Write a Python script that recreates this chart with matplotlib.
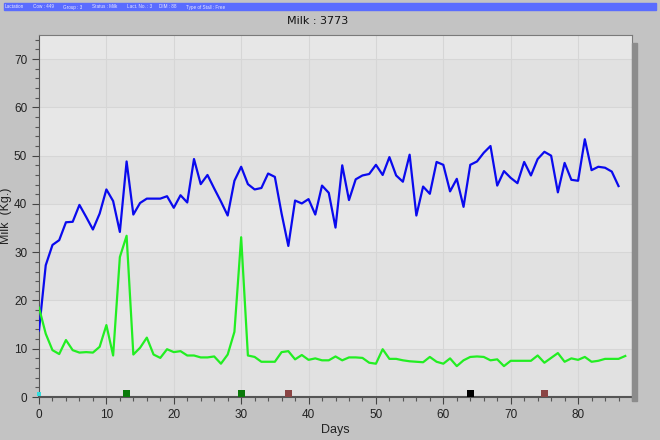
import matplotlib
matplotlib.use("Agg")
import matplotlib.pyplot as plt
from matplotlib.patches import Rectangle
from matplotlib.ticker import MultipleLocator

# daily milk yield (kg), days 0..86
milk = [13.8, 27.3, 31.5, 32.5, 36.2, 36.3, 39.8, 37.3, 34.7, 38.0,
        43.0, 40.6, 34.2, 48.8, 37.8, 40.2, 41.1, 41.1, 41.1, 41.6,
        39.2, 41.8, 40.3, 49.3, 44.1, 46.0, 43.2, 40.5, 37.6, 44.8,
        47.7, 44.1, 43.0, 43.3, 46.3, 45.6, 38.0, 31.3, 40.7, 40.1,
        41.0, 37.8, 43.8, 42.3, 35.1, 48.0, 40.8, 45.1, 45.9, 46.2,
        48.1, 46.0, 49.7, 45.9, 44.6, 50.2, 37.6, 43.6, 42.1, 48.7,
        48.1, 42.6, 45.2, 39.4, 48.1, 48.8, 50.6, 52.0, 43.8, 46.8,
        45.4, 44.3, 48.7, 45.9, 49.3, 50.8, 50.0, 42.4, 48.5, 45.0,
        44.8, 53.4, 47.0, 47.7, 47.5, 46.7, 43.7]

# second series (green), days 0..87
second = [18.5, 13.1, 9.7, 8.9, 11.8, 9.7, 9.2, 9.3, 9.2, 10.4,
          14.9, 8.6, 29.0, 33.4, 8.8, 10.2, 12.3, 8.8, 8.1, 9.9,
          9.3, 9.5, 8.6, 8.6, 8.2, 8.2, 8.4, 6.9, 8.8, 13.5,
          33.1, 8.6, 8.3, 7.3, 7.3, 7.3, 9.3, 9.5, 7.8, 8.7,
          7.7, 8.0, 7.6, 7.6, 8.4, 7.6, 8.2, 8.2, 8.1, 7.1,
          6.9, 9.9, 7.9, 7.9, 7.6, 7.4, 7.3, 7.2, 8.3, 7.3,
          6.9, 8.0, 6.4, 7.6, 8.3, 8.4, 8.3, 7.6, 7.8, 6.4,
          7.5, 7.5, 7.5, 7.5, 8.6, 7.1, 8.1, 9.1, 7.3, 8.0,
          7.7, 8.3, 7.3, 7.5, 7.9, 7.9, 7.9, 8.5]

milk_days = list(range(len(milk)))
second_days = list(range(len(second)))

# event markers along the bottom
event_days = [13, 30, 37, 64, 75]
event_colors = ["#0a7a0a", "#0a7a0a", "#8a4444", "#000000", "#8a4444"]

header_fields = ["Lactation", "Cow : 449", "Group : 3", "Status : Milk",
                 "Lact. No. : 3", "DIM : 88", "Type of Stall : Free"]
header_x = [5, 33, 63, 92, 127, 159, 186]

W, H = 660, 440
BG = "#c3c3c3"

fig = plt.figure(figsize=(W / 100, H / 100), dpi=100)
fig.patch.set_facecolor(BG)

# header strip
fig.patches.append(Rectangle((4 / W, 1 - 10.5 / H), 652 / W, 7 / H,
                             transform=fig.transFigure, color="#5a6cff",
                             zorder=0))
for txt, px in zip(header_fields, header_x):
    fig.text(px / W, 1 - 7 / H, txt, fontsize=3.3, color="#e8e8ff",
             va="center", ha="left", family="Liberation Sans")

fig.text(318 / W, 1 - 21 / H, "Milk : 3773", fontsize=8, ha="center",
         va="center", color="#111111", family="DejaVu Sans")

left, right, top, bottom = 39, 632, 35, 397
ax = fig.add_axes([left / W, 1 - bottom / H, (right - left) / W,
                   (bottom - top) / H])

# drop shadow to the right
fig.patches.append(Rectangle((right / W, 1 - (bottom + 4) / H), 5 / W,
                             (bottom - top - 4) / H, transform=fig.transFigure,
                             color="#8c8c8c", zorder=0))

ax.set_xlim(0, 88)
ax.set_ylim(0, 75)
ax.set_facecolor("#e7e7e7")
for y0 in range(0, 75, 20):
    ax.axhspan(y0, y0 + 10, color="#e1e1e1", zorder=0, lw=0)
ax.grid(True, which="major", color="#d6d6d6", lw=0.8, zorder=0.5)
ax.set_axisbelow(True)

ax.plot(milk_days, milk, color="#0a0aee", lw=1.6, zorder=3)
ax.plot(second_days, second, color="#22ee22", lw=1.6, zorder=3)

ax.scatter(event_days, [0.7] * len(event_days), marker="s", s=26,
           c=event_colors, zorder=4, clip_on=False, linewidths=0)
ax.scatter([0], [0.7], marker="s", s=12, c="#33dddd", zorder=4,
           clip_on=False, linewidths=0)

ax.xaxis.set_major_locator(MultipleLocator(10))
ax.xaxis.set_minor_locator(MultipleLocator(2))
ax.yaxis.set_major_locator(MultipleLocator(10))
ax.yaxis.set_minor_locator(MultipleLocator(2))
ax.tick_params(which="major", length=5, color="#444444", labelsize=8.5,
               labelcolor="#222222", width=0.8)
ax.tick_params(which="minor", length=3, color="#555555", width=0.8)
for lbl in ax.get_xticklabels() + ax.get_yticklabels():
    lbl.set_family("Liberation Sans")

for side in ["top", "right"]:
    ax.spines[side].set_color("#7a7a7a")
    ax.spines[side].set_linewidth(0.8)
ax.spines["left"].set_color("#555555")
ax.spines["bottom"].set_color("#555555")
ax.spines["bottom"].set_linewidth(1.5)

ax.set_xlabel("Days", fontsize=9, color="#222222", family="Liberation Sans",
              labelpad=2)
ax.set_ylabel("Milk  (Kg.)", fontsize=9, color="#222222",
              family="Liberation Sans")
ax.yaxis.set_label_coords(-0.045, 0.5)

fig.savefig("out.png", dpi=100, facecolor=fig.get_facecolor())
